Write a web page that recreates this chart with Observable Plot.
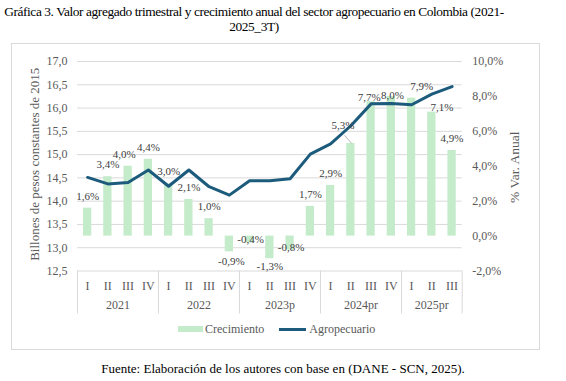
<!DOCTYPE html>
<html>
<head>
<meta charset="utf-8">
<script src="https://cdn.jsdelivr.net/npm/d3@7"></script>
<script src="https://cdn.jsdelivr.net/npm/@observablehq/plot@0.6"></script>
<style>
  html, body { margin: 0; padding: 0; background: #fff; }
  body { width: 566px; height: 381px; position: relative; overflow: hidden; font-family: "Liberation Serif", "Times New Roman", serif; }
  #title { position: absolute; left: 0; top: 4px; width: 508px; text-align: center; font-family: "Liberation Serif", serif; font-size: 13.4px; letter-spacing: -0.42px; line-height: 15px; color: #000; white-space: nowrap; }
  #frame { position: absolute; left: 11px; top: 43px; width: 527px; height: 305px; border: 1px solid #d9d9d9; }
  #chart { position: absolute; left: 12px; top: 44px; }
  #legend { position: absolute; left: 178px; top: 322px; height: 14px; display: flex; align-items: center; font-family: "Liberation Serif", serif; font-size: 12px; color: #595959; }
  #legend .sw1 { display: inline-block; width: 25px; height: 6px; background: #c4ebca; margin-right: 2px; }
  #legend .sw2 { display: inline-block; width: 27px; height: 3px; background: #1c5b7c; margin-right: 3px; margin-left: 15px; }
  #caption { position: absolute; left: 0; top: 361px; width: 566px; text-align: center; font-family: "Liberation Serif", serif; font-size: 13px; color: #000; }
</style>
</head>
<body>
<div id="title">Gráfica 3. Valor agregado trimestral y crecimiento anual del sector agropecuario en Colombia (2021-<br>2025_3T)</div>
<div id="frame"></div>
<div id="chart"></div>
<div id="legend"><span class="sw1"></span><span>Crecimiento</span><span class="sw2"></span><span>Agropecuario</span></div>
<div id="caption">Fuente: Elaboración de los autores con base en (DANE - SCN, 2025).</div>
<script>
// ---- data ----
const quarters = ["I","II","III","IV","I","II","III","IV","I","II","III","IV","I","II","III","IV","I","II","III"];
const years = ["2021","2022","2023p","2024pr","2025pr"];
const quartersPerYear = [4,4,4,4,3];
const growth = [1.6,3.4,4.0,4.4,3.0,2.1,1.0,-0.9,-0.4,-1.3,-0.8,1.7,2.9,5.3,7.7,8.0,7.9,7.1,4.9];
const agro = [14.51,14.37,14.40,14.67,14.32,14.67,14.31,14.13,14.44,14.44,14.48,15.01,15.23,15.62,16.09,16.10,16.07,16.30,16.46];
const leftTicks = [12.5,13.0,13.5,14.0,14.5,15.0,15.5,16.0,16.5,17.0];
const rightTicks = [-2,0,2,4,6,8,10];

// ---- layout ----
const W = 526, H = 280, ML = 65, MR = 76.3, MT = 17, MB = 53.5;
const leftDomain = [12.5, 17.0], rightDomain = [-2, 10];
const toLeft = g => leftDomain[0] + (g - rightDomain[0]) * (leftDomain[1] - leftDomain[0]) / (rightDomain[1] - rightDomain[0]);
const bw = (W - ML - MR) / quarters.length;           // px per category
const pyu = (H - MT - MB) / (leftDomain[1] - leftDomain[0]); // px per left unit

const rows = growth.map((g, i) => ({i, q: quarters[i], g, agro: agro[i]}));
let start = 0;
const yearRows = years.map((y, k) => { const r = {year: y, mid: start + (quartersPerYear[k] - 1) / 2, b0: start - 0.5}; start += quartersPerYear[k]; return r; });
const boundaries = yearRows.map(d => d.b0).concat([quarters.length - 0.5]);

const fmtPct = v => v.toFixed(1).replace(".", ",") + "%";
// manual label nudges (px) for crowded labels
const labelNudge = {2:[-4,0], 7:[2,0], 8:[1,-13.5], 9:[0,-2.5], 10:[1,-12.5], 13:[-8,-5.6], 14:[-2,8.3], 15:[1,11.5], 17:[10,7.4], 16:[10,0]};

const labelMarks = rows.map(d => {
  const [nx, ny] = labelNudge[d.i] || [0, 0];
  return Plot.text([d], {
    x: "i", y: r => toLeft(r.g), text: r => fmtPct(r.g),
    dx: nx, dy: (d.g >= 0 ? -12 : 10) + ny,
    lineAnchor: "middle", fill: "#404040", fontSize: 11
  });
});

const chart = Plot.plot({
  width: W, height: H,
  marginLeft: ML, marginRight: MR, marginTop: MT, marginBottom: MB,
  style: {fontFamily: "'Liberation Serif', 'Times New Roman', serif", fontSize: "12px", color: "#595959", background: "white", overflow: "visible"},
  x: {type: "linear", domain: [-0.5, quarters.length - 0.5], axis: null},
  y: {domain: leftDomain, axis: null},
  marks: [
    Plot.gridY(leftTicks, {stroke: "#d9d9d9", strokeOpacity: 1}),
    Plot.ruleX(boundaries, {y1: leftDomain[0], y2: leftDomain[0], insetBottom: -43, stroke: "#d9d9d9", strokeOpacity: 1}),
    Plot.rectY(rows, {x1: d => d.i - 0.5, x2: d => d.i + 0.5, y1: toLeft(0), y2: d => toLeft(d.g), insetLeft: 6, insetRight: 6, fill: "#c4ebca"}),
    Plot.line(rows, {x: "i", y: "agro", stroke: "#1c5b7c", strokeWidth: 3, strokeLinejoin: "round"}),
    Plot.link([13], {x1: d => d - 6.4 / bw, y1: d => toLeft(growth[d]) + 8.3 / pyu, x2: d => d + 1 / bw, y2: d => toLeft(growth[d]), stroke: "#a6a6a6", strokeWidth: 0.8}),
    ...labelMarks,
    Plot.axisY(leftTicks, {anchor: "left", tickSize: 0, tickPadding: 10, tickFormat: d => d.toFixed(1).replace(".", ","), label: null, fontSize: 12}),
    Plot.axisY(rightTicks.map(toLeft), {anchor: "right", tickSize: 0, tickPadding: 10, tickFormat: (d, k) => fmtPct(rightTicks[k]), label: null, fontSize: 12}),
    Plot.axisX(rows.map(d => d.i), {anchor: "bottom", tickSize: 0, tickPadding: 10, tickFormat: i => quarters[i], label: null, fontSize: 12}),
    Plot.text(yearRows, {x: "mid", y: leftDomain[0], dy: 34.5, text: "year", lineAnchor: "middle", fill: "#595959", fontSize: 12}),
    Plot.text(["Billones de pesos constantes de 2015"], {frameAnchor: "left", rotate: -90, dx: -43, dy: -2, text: d => d, textAnchor: "middle", fill: "#595959", fontSize: 13, lineAnchor: "middle"}),
    Plot.text(["% Var. Anual"], {frameAnchor: "right", rotate: -90, dx: 52, dy: 1, text: d => d, textAnchor: "middle", fill: "#595959", fontSize: 13.5, lineAnchor: "middle"})
  ]
});
document.getElementById("chart").appendChild(chart);
</script>
</body>
</html>
